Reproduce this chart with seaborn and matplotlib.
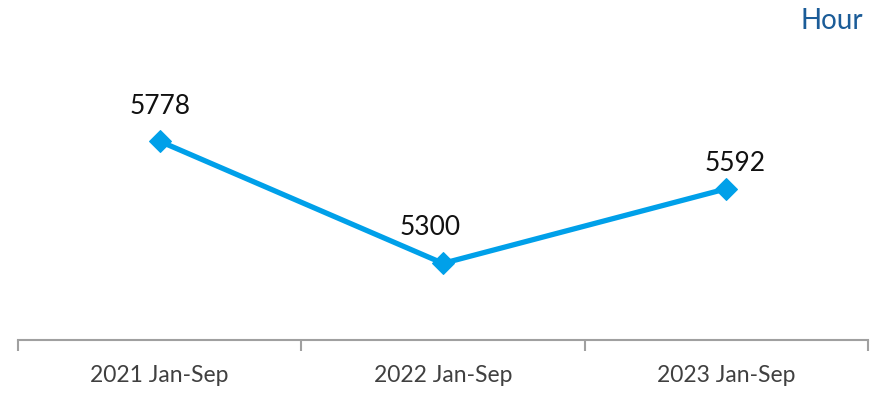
import matplotlib
matplotlib.use("Agg")
import matplotlib.pyplot as plt
import seaborn as sns
import pandas as pd

periods = ["2021 Jan-Sep", "2022 Jan-Sep", "2023 Jan-Sep"]
hours = [5778, 5300, 5592]
label_dx = [0, -9, 6]    # points, horizontal nudge of each value label
label_dy = [25, 26, 18]  # points above each marker

sns.set_theme(style="white")
plt.rcParams["font.family"] = ["Lato", "DejaVu Sans"]

df = pd.DataFrame({"period": periods, "hours": hours})

fig = plt.figure(figsize=(8.84, 3.97), dpi=100)
ax = fig.add_axes([18 / 884, 1 - 340 / 397, 850 / 884, 281 / 397])

line_color = "#00A0E9"
sns.lineplot(data=df, x="period", y="hours", ax=ax, color=line_color,
             linewidth=3.8, marker="D", markersize=11,
             markeredgecolor=line_color, sort=False)

for i, (v, dx, dy) in enumerate(zip(hours, label_dx, label_dy)):
    ax.annotate(f"{v}", (i, v), xytext=(dx, dy), textcoords="offset points",
                ha="center", va="center", fontsize=19, color="#111111")

ax.set_xlim(-0.5, 2.5)
ax.set_ylim(5000, 6100)
ax.set_xlabel("")
ax.set_ylabel("")
ax.set_yticks([])

for side in ["top", "right", "left"]:
    ax.spines[side].set_visible(False)
ax.spines["bottom"].set_color("#a0a0a0")
ax.spines["bottom"].set_linewidth(1.5)

ax.set_xticks([0, 1, 2])
ax.set_xticklabels(periods, fontsize=16.5, color="#404040")
ax.tick_params(axis="x", which="major", length=0, pad=18)
ax.set_xticks([-0.5, 0.5, 1.5, 2.5], minor=True)
ax.tick_params(axis="x", which="minor", length=8, width=1.5,
               color="#a0a0a0", direction="out", bottom=True)

fig.text(863 / 884, 1 - 21 / 397, "Hour", ha="right", va="center",
         fontsize=20, color="#1B5C98")

fig.savefig("out.png", dpi=100)
